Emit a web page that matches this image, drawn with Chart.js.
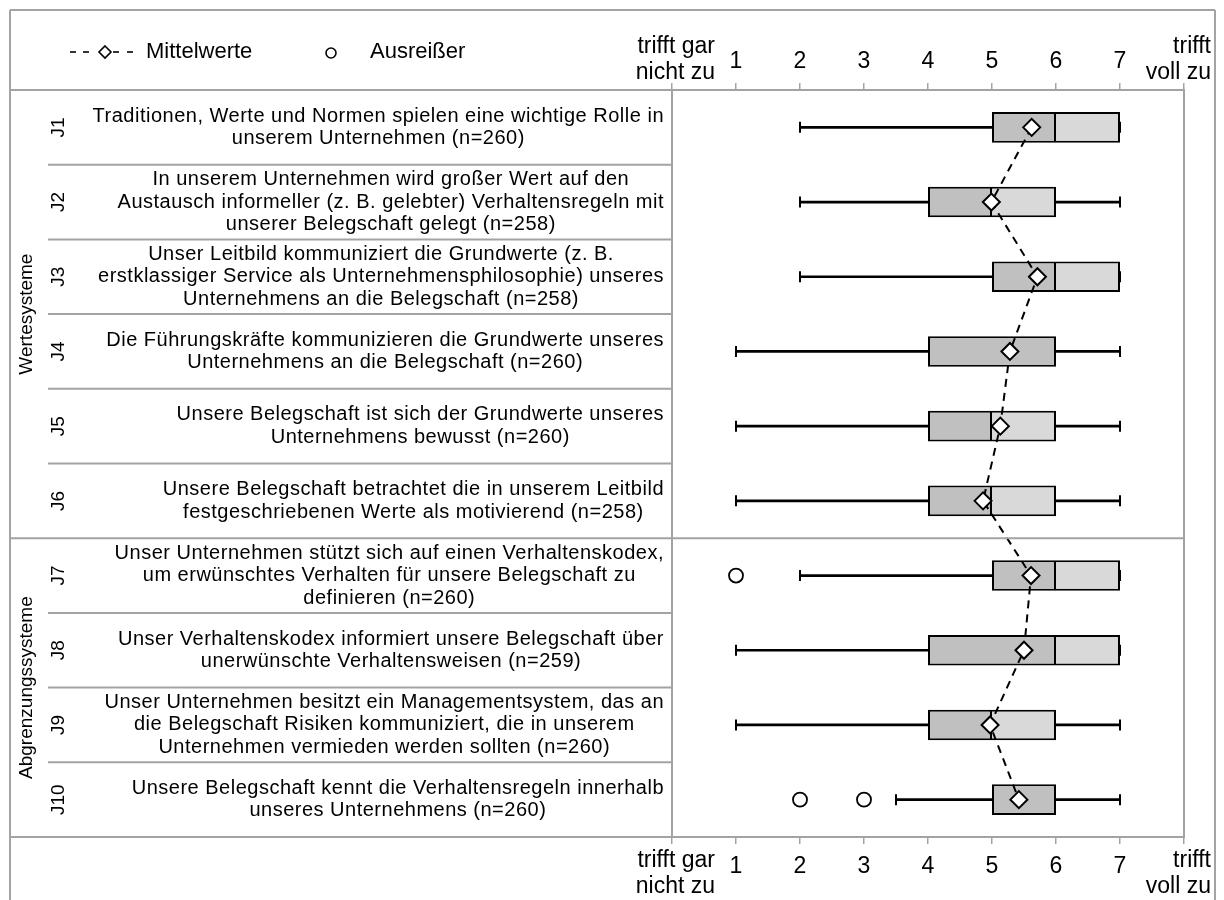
<!DOCTYPE html>
<html>
<head>
<meta charset="utf-8">
<title>Wertesysteme / Abgrenzungssysteme</title>
<script src="https://cdn.jsdelivr.net/npm/chart.js@4.4.1/dist/chart.umd.min.js"></script>
<style>
  html, body { margin: 0; padding: 0; background: #fff; }
  canvas { display: block; }
</style>
</head>
<body>
<canvas id="boxChart" width="1224" height="900"></canvas>
<script>
// --- data ---
const items = ['J1', 'J2', 'J3', 'J4', 'J5', 'J6', 'J7', 'J8', 'J9', 'J10'];
const questions = [
    ['Traditionen, Werte und Normen spielen eine wichtige Rolle in', 'unserem Unternehmen (n=260)'],
    ['In unserem Unternehmen wird großer Wert auf den', 'Austausch informeller (z. B. gelebter) Verhaltensregeln mit', 'unserer Belegschaft gelegt (n=258)'],
    ['Unser Leitbild kommuniziert die Grundwerte (z. B.', 'erstklassiger Service als Unternehmensphilosophie) unseres', 'Unternehmens an die Belegschaft (n=258)'],
    ['Die Führungskräfte kommunizieren die Grundwerte unseres', 'Unternehmens an die Belegschaft (n=260)'],
    ['Unsere Belegschaft ist sich der Grundwerte unseres', 'Unternehmens bewusst (n=260)'],
    ['Unsere Belegschaft betrachtet die in unserem Leitbild', 'festgeschriebenen Werte als motivierend (n=258)'],
    ['Unser Unternehmen stützt sich auf einen Verhaltenskodex,', 'um erwünschtes Verhalten für unsere Belegschaft zu', 'definieren (n=260)'],
    ['Unser Verhaltenskodex informiert unsere Belegschaft über', 'unerwünschte Verhaltensweisen (n=259)'],
    ['Unser Unternehmen besitzt ein Managementsystem, das an', 'die Belegschaft Risiken kommuniziert, die in unserem', 'Unternehmen vermieden werden sollten (n=260)'],
    ['Unsere Belegschaft kennt die Verhaltensregeln innerhalb', 'unseres Unternehmens (n=260)']
];
const groupNames = ['Wertesysteme', 'Abgrenzungssysteme'];
const groupSizes = [6, 4];

const mins    = [2, 2, 2, 1, 1, 1, 2, 1, 1, 3.5];
const q1      = [5, 4, 5, 4, 4, 4, 5, 4, 4, 5];
const medians = [6, 5, 6, 6, 5, 5, 6, 6, 5, 6];
const q3      = [7, 6, 7, 6, 6, 6, 7, 7, 6, 6];
const maxs    = [7, 7, 7, 7, 7, 7, 7, 7, 7, 7];
const means   = [5.62, 4.99, 5.71, 5.28, 5.13, 4.86, 5.61, 5.5, 4.97, 5.42];
const outlierX = [1, 2, 3];
const outlierItem = ['J7', 'J10', 'J10'];

const lowLabel = ['trifft gar', 'nicht zu'];
const highLabel = ['trifft', 'voll zu'];
const legendMean = 'Mittelwerte';
const legendOutlier = 'Ausreißer';

const FONT = "'Liberation Sans', Arial, sans-serif";
const GRID = '#a3a3a3';

// table, legend and end labels around the plot
const tablePlugin = {
    id: 'tablePlugin',
    afterDraw(chart) {
        const {ctx, chartArea: a, scales: {y}} = chart;
        const line = (x1, y1, x2, y2) => {
            ctx.beginPath(); ctx.moveTo(x1, y1); ctx.lineTo(x2, y2); ctx.stroke();
        };
        ctx.save();
        ctx.strokeStyle = GRID;
        ctx.lineWidth = 2;
        line(10, 900, 10, 10);
        line(10, 10, 1215, 10);
        line(1215, 10, 1215, 900);
        line(10, a.top, a.left, a.top);
        line(10, a.bottom, a.left, a.bottom);
        ctx.strokeRect(a.left, a.top, a.right - a.left, a.bottom - a.top);

        const rowEdge = (i) => (y.getPixelForValue(i - 1) + y.getPixelForValue(i)) / 2;
        let groupEnds = [];
        groupSizes.reduce((acc, n) => { groupEnds.push(acc + n); return acc + n; }, 0);
        for (let i = 1; i < items.length; i++) {
            if (groupEnds.includes(i)) line(10, rowEdge(i), a.right, rowEdge(i));
            else line(48, rowEdge(i), a.left, rowEdge(i));
        }

        ctx.fillStyle = '#000';
        // question texts: lines centred on each other, block pushed to the right
        ctx.font = '20px ' + FONT;
        ctx.letterSpacing = '0.5px';
        ctx.textAlign = 'center';
        ctx.textBaseline = 'middle';
        questions.forEach((lines, i) => {
            const yc = y.getPixelForValue(i);
            const w = Math.max(...lines.map(t => ctx.measureText(t).width));
            const cx = 664 - w / 2;
            lines.forEach((t, k) => ctx.fillText(t, cx, yc + (k - (lines.length - 1) / 2) * 22.5));
        });
        ctx.letterSpacing = '0px';

        // rotated item ids and group names
        ctx.font = '19px ' + FONT;
        const vtext = (t, x, yy) => {
            ctx.save(); ctx.translate(x, yy); ctx.rotate(-Math.PI / 2);
            ctx.fillText(t, 0, 0); ctx.restore();
        };
        items.forEach((it, i) => vtext(it, 59, y.getPixelForValue(i)));
        let start = 0;
        groupNames.forEach((g, k) => {
            const top = start === 0 ? a.top : rowEdge(start);
            const end = start + groupSizes[k];
            const bottom = end >= items.length ? a.bottom : rowEdge(end);
            vtext(g, 27, (top + bottom) / 2);
            start = end;
        });

        // end labels of the scale
        ctx.font = '23px ' + FONT;
        ctx.textAlign = 'right';
        ctx.textBaseline = 'alphabetic';
        ctx.fillText(lowLabel[0], 715, 53);
        ctx.fillText(lowLabel[1], 715, 79);
        ctx.fillText(highLabel[0], 1211, 53);
        ctx.fillText(highLabel[1], 1211, 79);
        ctx.fillText(lowLabel[0], 715, 867);
        ctx.fillText(lowLabel[1], 715, 893);
        ctx.fillText(highLabel[0], 1211, 867);
        ctx.fillText(highLabel[1], 1211, 893);

        // legend
        const ly = 52;
        ctx.strokeStyle = '#000';
        ctx.lineWidth = 1.6;
        [[70, 76], [83, 89], [113, 119], [127, 133]].forEach(s => line(s[0], ly, s[1], ly));
        ctx.beginPath();
        ctx.moveTo(105, ly - 6); ctx.lineTo(111, ly); ctx.lineTo(105, ly + 6); ctx.lineTo(99, ly);
        ctx.closePath();
        ctx.fillStyle = '#fff'; ctx.fill(); ctx.stroke();
        ctx.beginPath(); ctx.arc(331, ly + 1, 5, 0, Math.PI * 2); ctx.stroke();
        ctx.fillStyle = '#000';
        ctx.font = '22px ' + FONT;
        ctx.textAlign = 'left';
        ctx.textBaseline = 'middle';
        ctx.fillText(legendMean, 146, ly);
        ctx.fillText(legendOutlier, 370, ly);
        ctx.restore();
    }
};

const axisOpts = (pos, pad) => ({
    type: 'linear',
    position: pos,
    min: 0,
    max: 8,
    ticks: {
        stepSize: 1,
        padding: pad,
        color: '#000',
        font: { family: FONT, size: 23 },
        callback: v => (v >= 1 && v <= 7) ? v : ''
    },
    grid: { drawOnChartArea: false, drawTicks: true, tickLength: 7, color: GRID, lineWidth: 1.5 },
    border: { display: true, color: GRID, width: 2 }
});

const xTop = axisOpts('top', 8);
xTop.afterFit = s => { s.height = 78; };
const xBottom = axisOpts('bottom', 9);
xBottom.afterFit = s => { s.height = 50; };

const ctx = document.getElementById('boxChart');
const boxChart = new Chart(ctx, {
    type: 'bar',
    data: {
        labels: items,
        datasets: [
            {
                label: 'whisker low',
                data: items.map((_, i) => [mins[i], q1[i]]),
                backgroundColor: '#000',
                barThickness: 2,
                grouped: false,
                order: 6
            },
            {
                label: 'whisker high',
                data: items.map((_, i) => q3[i] < maxs[i] ? [q3[i], maxs[i]] : null),
                backgroundColor: '#000',
                barThickness: 2,
                grouped: false,
                order: 6
            },
            {
                type: 'line',
                label: 'caps',
                data: items.flatMap((it, i) => [{x: mins[i], y: it}, {x: maxs[i], y: it}]),
                showLine: false,
                pointStyle: 'line',
                rotation: 90,
                pointRadius: 5.5,
                borderColor: '#000',
                pointBorderWidth: 2,
                order: 5
            },
            {
                label: 'Q1-Median',
                data: items.map((_, i) => q1[i] < medians[i] ? [q1[i], medians[i]] : null),
                backgroundColor: '#c0c0c0',
                borderColor: '#000',
                borderWidth: 2,
                borderSkipped: false,
                barPercentage: 0.41,
                categoryPercentage: 1,
                grouped: false,
                order: 4
            },
            {
                label: 'Median-Q3',
                data: items.map((_, i) => medians[i] < q3[i] ? [medians[i], q3[i]] : null),
                backgroundColor: '#d9d9d9',
                borderColor: '#000',
                borderWidth: { top: 2, right: 2, bottom: 2, left: 0 },
                borderSkipped: false,
                barPercentage: 0.41,
                categoryPercentage: 1,
                grouped: false,
                order: 3
            },
            {
                type: 'line',
                label: legendOutlier,
                data: outlierX.map((v, i) => ({x: v, y: outlierItem[i]})),
                showLine: false,
                pointStyle: 'circle',
                pointRadius: 7,
                pointBackgroundColor: '#fff',
                pointBorderColor: '#000',
                pointBorderWidth: 1.8,
                order: 2
            },
            {
                type: 'line',
                label: legendMean,
                data: means.map((v, i) => ({x: v, y: items[i]})),
                borderColor: '#000',
                borderWidth: 2,
                borderDash: [8, 6],
                pointStyle: 'rectRot',
                pointRadius: 8.5,
                pointBackgroundColor: '#fff',
                pointBorderColor: '#000',
                pointBorderWidth: 2,
                order: 1
            }
        ]
    },
    options: {
        indexAxis: 'y',
        responsive: false,
        animation: false,
        events: [],
        layout: { padding: { left: 672, right: 40, top: 12, bottom: 13 } },
        scales: {
            x: xTop,
            x2: xBottom,
            y: { type: 'category', display: false }
        },
        plugins: {
            legend: { display: false },
            tooltip: { enabled: false }
        }
    },
    plugins: [tablePlugin]
});
</script>
</body>
</html>
